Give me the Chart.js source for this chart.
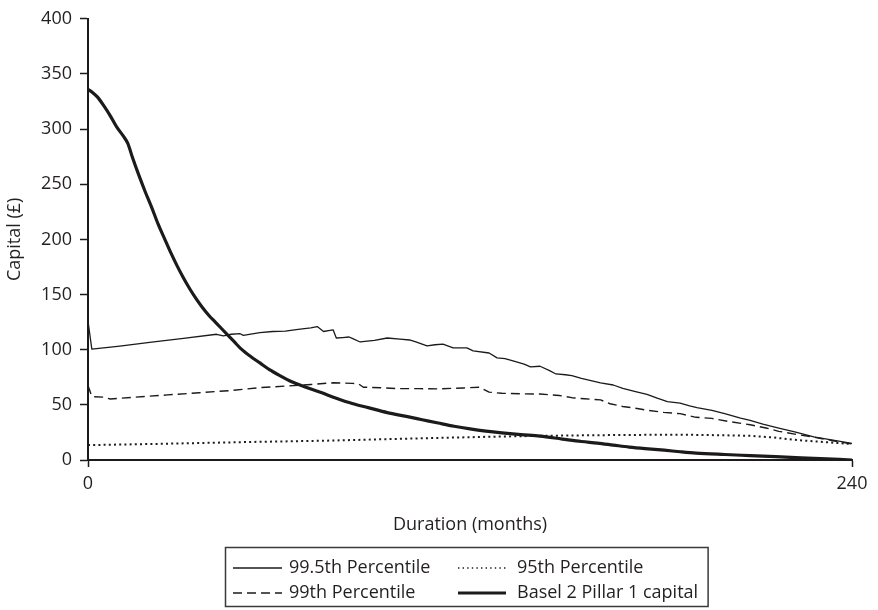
<!DOCTYPE html>
<html>
<head>
<meta charset="utf-8">
<title>Capital by duration</title>
<script src="https://cdn.jsdelivr.net/npm/chart.js@4.4.1/dist/chart.umd.min.js"></script>
<style>
  html, body { margin: 0; padding: 0; background: #ffffff; }
  #wrap { width: 878px; height: 610px; }
</style>
</head>
<body>
<div id="wrap"><canvas id="c" width="878" height="610"></canvas></div>
<script>
// Capital requirement over the life of the loan (months 0-240)
const seriesNames = ['99.5th Percentile', '99th Percentile', '95th Percentile', 'Basel 2 Pillar 1 capital'];

const p995Months = [0, 1.2, 10, 20, 30, 40.4, 42.5, 45, 47.8, 48.8, 54, 58, 62, 66, 70, 72, 74, 76, 77, 78, 80, 82, 83, 85.5, 90, 94, 98, 101, 103, 106.5, 109, 111.5, 114.7, 119, 121, 126, 128.5, 131, 133.5, 137, 139, 142, 145, 147, 150, 152, 155, 158, 161, 165, 168, 172, 175.6, 178.8, 182, 186, 189, 191.3, 196, 200, 205, 208, 212, 217, 222, 228, 234, 240];
const p995Values = [126, 100.5, 103.3, 106.8, 110.3, 114, 112.5, 114, 114.5, 113, 115.4, 116.5, 116.8, 118.5, 119.8, 121, 116.5, 117.5, 118, 110.6, 111, 111.5, 110.2, 107, 108.5, 110.6, 109.5, 108.8, 107, 103.4, 104.5, 105, 101.6, 101.6, 99, 97, 92.6, 92, 89.9, 87, 84.5, 85, 81, 78, 77.3, 76.4, 74, 72, 70, 68, 65, 62, 59.5, 56, 53, 51.5, 49, 47.5, 45, 42, 38, 36, 32.5, 29, 25.5, 21, 18, 15];

const p99Months = [0, 1.2, 5, 7, 15, 25, 35, 45, 54, 62, 70, 77, 83, 85, 86.5, 92, 97, 104, 110, 118, 123, 126, 130, 136, 142, 148, 152, 156, 161, 164, 168, 172.5, 176, 180.8, 186, 191, 196, 201, 208, 213, 217, 222, 228, 234, 240];
const p99Values = [67.5, 57.5, 57, 55.3, 57, 59, 61, 63, 65.6, 67, 68.5, 70, 69.5, 69, 66, 65.5, 64.7, 64.7, 64.5, 65.3, 66, 61.5, 60.5, 60, 59.8, 58.5, 56.5, 55.5, 54.5, 51, 48.5, 46.7, 45, 43.2, 42, 38.7, 37.7, 35, 32, 29, 26, 23.5, 20.7, 17.5, 14.5];

const p95Months = [0, 20, 40, 54, 73, 90, 110, 125, 142, 160, 175, 190, 200, 208, 215, 223, 231, 240];
const p95Values = [13.5, 14.5, 15.7, 16.5, 17.4, 18.6, 20, 21, 21.9, 22.5, 22.8, 22.8, 22.4, 21.9, 20.5, 18, 16.3, 14.5];

const baselMonths = [0, 1.5, 3, 5, 7, 9, 11, 12.5, 14, 16, 18, 20, 22, 24, 26, 28, 30, 32, 34, 36, 38, 40, 42, 44, 46, 48, 51, 54, 57, 60, 64, 68, 73, 78, 83, 88, 94, 100, 105, 110, 115, 120, 125, 130, 136, 142, 149, 155, 160, 165, 170, 175, 181, 186, 191, 200, 208, 216, 224, 232, 240];
const baselValues = [336, 333, 329, 321, 312, 302, 294, 287, 274, 258, 243, 229, 214, 201, 188, 176, 165, 155, 146, 138, 131, 125, 119, 113, 107, 101, 94, 88, 82, 77, 71, 66.5, 61.4, 56, 51.2, 47.5, 43, 39.5, 36.5, 33.5, 30.6, 28.2, 26.2, 24.6, 23, 21.6, 19, 16.8, 15.3, 13.5, 11.7, 10.3, 8.9, 7.5, 6.3, 5, 4, 3, 2, 1, 0];

const xTickValues = [0, 240];
const yTickValues = [0, 50, 100, 150, 200, 250, 300, 350, 400];

const INK = '#1c1a1b';
const TEXT = '#231f20';
const FONT = '"Open Sans", "Noto Sans", sans-serif';

function points(months, values) {
  return months.map((m, i) => ({ x: m, y: values[i] }));
}

const lineStyles = [
  { borderWidth: 1.3, borderDash: [] },
  { borderWidth: 1.4, borderDash: [9, 5] },
  { borderWidth: 2, borderDash: [2, 3.2] },
  { borderWidth: 3.2, borderDash: [] }
];

const datasets = [
  { label: seriesNames[0], data: points(p995Months, p995Values), ...lineStyles[0] },
  { label: seriesNames[1], data: points(p99Months, p99Values), ...lineStyles[1] },
  { label: seriesNames[2], data: points(p95Months, p95Values), ...lineStyles[2] },
  { label: seriesNames[3], data: points(baselMonths, baselValues), ...lineStyles[3], cubicInterpolationMode: 'monotone' }
].map(d => Object.assign({
  borderColor: INK,
  backgroundColor: INK,
  pointRadius: 0,
  pointHoverRadius: 0,
  fill: false,
  tension: 0,
  borderJoinStyle: 'round',
  borderCapStyle: 'butt'
}, d));

// Boxed two-column legend below the axis title
const boxLegend = {
  id: 'boxLegend',
  afterDraw(chart) {
    const ctx = chart.ctx;
    ctx.save();
    ctx.font = '18px ' + FONT;
    ctx.textBaseline = 'middle';
    ctx.fillStyle = TEXT;
    const rows = [568, 593];
    const cols = [
      { x0: 233, x1: 282, tx: 289 },
      { x0: 458, x1: 506, tx: 517 }
    ];
    // column 1 = 99.5th, 99th; column 2 = 95th, Basel
    const slots = [[0, 0], [1, 0], [0, 1], [1, 1]];
    let right = 0;
    datasets.forEach((ds, i) => {
      const [r, c] = slots[i];
      const y = rows[r];
      const col = cols[c];
      ctx.beginPath();
      ctx.strokeStyle = INK;
      ctx.lineWidth = i === 2 ? 1.4 : ds.borderWidth;
      ctx.setLineDash(i === 2 ? [1.4, 3.2] : ds.borderDash);
      ctx.moveTo(col.x0, y);
      ctx.lineTo(col.x1, y);
      ctx.stroke();
      ctx.setLineDash([]);
      ctx.fillText(ds.label, col.tx, y);
      right = Math.max(right, col.tx + ctx.measureText(ds.label).width);
    });
    ctx.strokeStyle = '#3a3a3a';
    ctx.lineWidth = 1.5;
    ctx.strokeRect(225.5, 547.5, right + 10 - 225.5, 59);
    ctx.restore();
  }
};

new Chart(document.getElementById('c'), {
  type: 'line',
  data: { datasets },
  options: {
    responsive: false,
    animation: false,
    devicePixelRatio: 1,
    layout: { padding: { top: 15, right: 26, bottom: 0, left: 0 } },
    plugins: {
      legend: { display: false },
      tooltip: { enabled: false }
    },
    scales: {
      x: {
        type: 'linear',
        min: 0,
        max: 240,
        afterFit(scale) { scale.height = 150; },
        afterBuildTicks(scale) { scale.ticks = xTickValues.map(v => ({ value: v })); },
        grid: { drawOnChartArea: false, drawTicks: true, tickLength: 7, tickWidth: 1.5, tickColor: INK },
        border: { display: true, color: INK, width: 2 },
        ticks: { color: TEXT, font: { family: FONT, size: 18 }, padding: 6, maxRotation: 0, autoSkip: false },
        title: { display: true, text: 'Duration (months)', color: TEXT, font: { family: FONT, size: 18 }, padding: { top: 0, bottom: 74 } }
      },
      y: {
        type: 'linear',
        min: 0,
        max: 400,
        afterFit(scale) { scale.width = 88; },
        afterBuildTicks(scale) { scale.ticks = yTickValues.map(v => ({ value: v })); },
        grid: { drawOnChartArea: false, drawTicks: true, tickLength: 8, tickWidth: 1.5, tickColor: INK },
        border: { display: true, color: INK, width: 2 },
        ticks: { color: TEXT, font: { family: FONT, size: 18 }, padding: 8 },
        title: { display: true, text: 'Capital (£)', color: TEXT, font: { family: FONT, size: 18 }, padding: { top: 4, bottom: 0 } }
      }
    }
  },
  plugins: [boxLegend]
});
</script>
</body>
</html>
